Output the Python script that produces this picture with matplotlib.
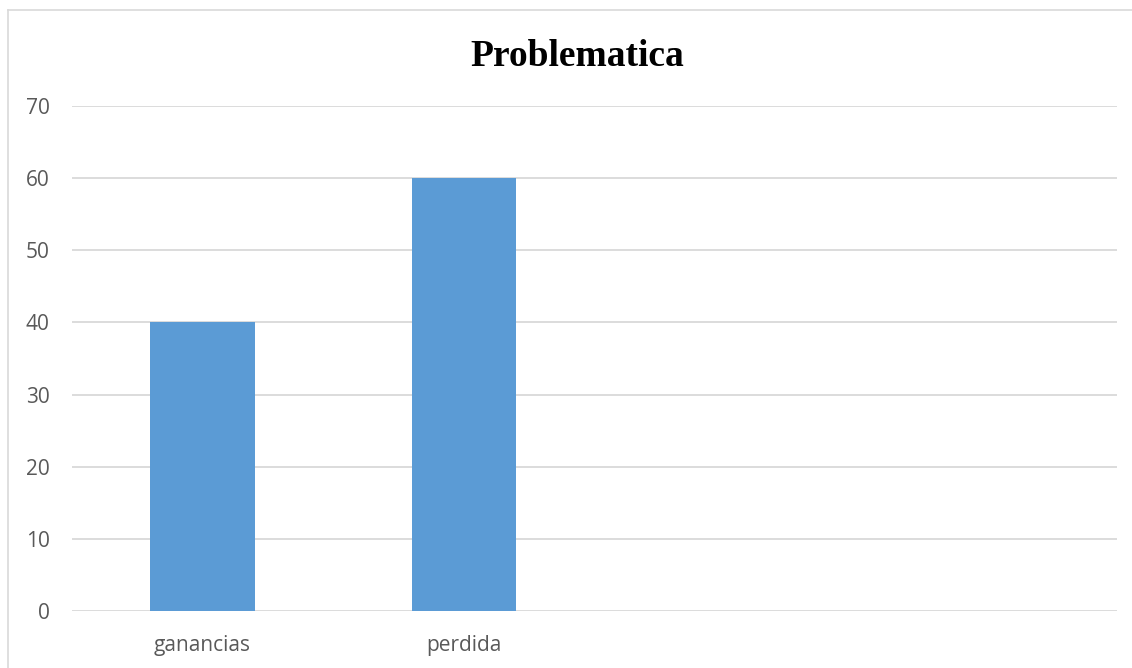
import matplotlib.pyplot as plt
import matplotlib.lines as mlines

categories = ['ganancias', 'perdida', '', '']
values = [40, 60, 0, 0]
yticks = [0, 10, 20, 30, 40, 50, 60, 70]

W, H = 1132, 668
fig = plt.figure(figsize=(W / 100, H / 100), dpi=100)
ax = fig.add_axes([72 / W, 1 - 611 / H, (1117 - 72) / W, (611 - 106) / H])

x = range(len(categories))
ax.bar(x, values, width=0.4, color='#5B9BD5', zorder=3)

ax.set_xlim(-0.5, len(categories) - 0.5)
ax.set_ylim(0, 70)
ax.set_yticks(yticks)
ax.set_xticks(list(x))
ax.set_xticklabels(categories)
ax.yaxis.grid(True, color='#D9D9D9', linewidth=1.3, zorder=0)
for s in ax.spines.values():
    s.set_visible(False)
ax.tick_params(length=0, labelsize=15, colors='#595959', labelfontfamily='Open Sans')
ax.tick_params(axis='y', pad=16)
ax.tick_params(axis='x', pad=17)

fig.text(577 / W, 1 - 56 / H, 'Problematica', ha='center', va='center',
         fontsize=27, fontweight='bold', family='Liberation Serif')

# outer chart border (cut off at right and bottom)
fig.add_artist(mlines.Line2D([8 / W, 8 / W], [0, 1 - 10 / H], color='#D9D9D9', lw=1.2,
                             transform=fig.transFigure))
fig.add_artist(mlines.Line2D([8 / W, 1], [1 - 10 / H, 1 - 10 / H], color='#D9D9D9', lw=1.2,
                             transform=fig.transFigure))

fig.savefig('out.png', dpi=100, facecolor='white')
